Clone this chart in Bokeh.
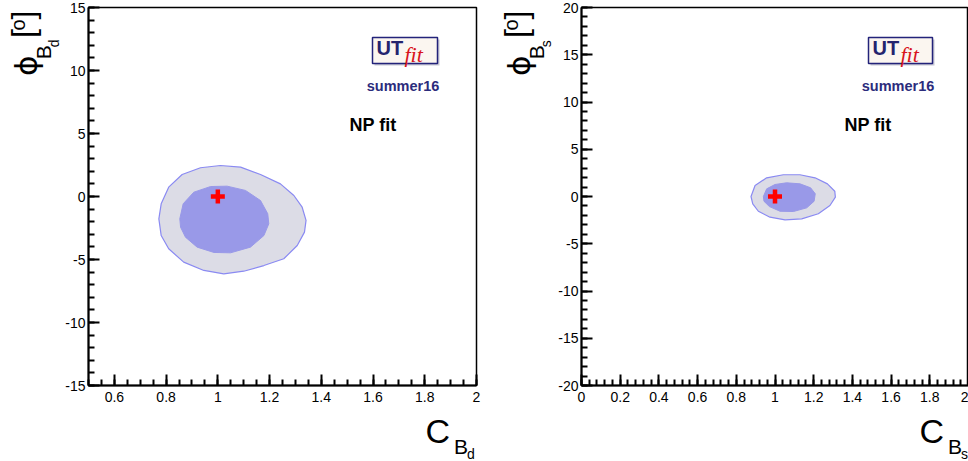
import math
from bokeh.plotting import figure
from bokeh.models import (Label, BoxAnnotation, SingleIntervalTicker,
                          CustomJSTickFormatter, Range1d)
from bokeh.layouts import row, column
from bokeh.embed import file_html
from bokeh.resources import INLINE

# ---------------- data ----------------
# B_d panel: C_Bd vs phi_Bd [deg]
bd_outer_c = [0.772, 0.781, 0.810, 0.862, 0.933, 1.010, 1.088, 1.165, 1.242, 1.294, 1.326,
              1.341, 1.335, 1.307, 1.255, 1.178, 1.100, 1.023, 0.946, 0.868, 0.810, 0.781]
bd_outer_phi = [-1.77, -0.58, 0.74, 1.75, 2.28, 2.46, 2.33, 1.75, 1.00, 0.08, -0.85,
                -1.90, -2.83, -3.89, -4.94, -5.48, -5.93, -6.14, -5.87, -5.21, -4.15, -3.10]
bd_inner_c = [0.853, 0.866, 0.907, 0.972, 1.036, 1.107, 1.165, 1.193, 1.197, 1.178, 1.126,
              1.049, 0.985, 0.920, 0.875, 0.856]
bd_inner_phi = [-1.77, -0.58, 0.34, 0.79, 0.82, 0.48, -0.32, -1.37, -2.17, -3.10, -4.02,
                -4.47, -4.44, -4.02, -3.23, -2.44]

# B_s panel: C_Bs vs phi_Bs [deg]
bs_outer_c = [0.876, 0.897, 0.957, 1.043, 1.129, 1.207, 1.271, 1.309, 1.312, 1.284, 1.224,
              1.138, 1.052, 0.974, 0.914, 0.885]
bs_outer_phi = [0.00, 1.16, 1.98, 2.30, 2.30, 1.98, 1.34, 0.56, -0.07, -0.95, -1.83,
                -2.36, -2.47, -2.19, -1.56, -0.77]
bs_inner_c = [0.940, 0.957, 1.000, 1.060, 1.129, 1.184, 1.208, 1.202, 1.164, 1.095, 1.026,
              0.971, 0.943]
bs_inner_phi = [0.00, 0.81, 1.27, 1.45, 1.34, 0.92, 0.29, -0.50, -1.20, -1.59, -1.56,
                -1.06, -0.50]

# Standard Model point
sm_c = [1.0]
sm_phi = [0.0]

bd_x_range = (0.5, 2.0)
bd_y_range = (-15, 15)
bs_x_range = (0.0, 2.0)
bs_y_range = (-20, 20)

# ---------------- styling ----------------
FONT = "Liberation Sans"
OUTER_FILL = "#dcdce6"
INNER_FILL = "#9999e8"
EDGE = "#8a8af2"
NAVY = "#2c2c7c"
TOP, BOTTOM = 7, 385          # frame top / bottom (px)
H_MAIN = 409                  # height of the plotting canvases
H_ALL = 461
W_ALL = 968

FMT = CustomJSTickFormatter(code="return String(Math.round(tick*1000)/1000);")


def text_canvas(w, h):
    """A blank figure whose data units are its own pixels (y downward)."""
    t = figure(width=w, height=h, x_range=Range1d(0, w), y_range=Range1d(h, 0),
               min_border=0, x_axis_location=None, y_axis_location=None,
               output_backend="svg", toolbar_location=None,
               background_fill_color="white", border_fill_color="white")
    t.outline_line_color = None
    t.grid.visible = False
    return t


def put(p, x, y, text, size, color="black", style="normal", font=FONT,
        angle=0.0, align="left"):
    # (x, y): start (or centre) of the text along its direction, vertical middle
    p.add_layout(Label(x=x, y=y, text=text, text_font=font,
                       text_font_size=f"{size}px", text_color=color,
                       text_font_style=style, angle=angle, angle_units="rad",
                       text_align=align, text_baseline="middle"))


def make_panel(xr, yr, x_int, x_minor, L, R, mb_left, mb_right, logo, sum_dx, np_dx):
    p = figure(frame_width=R - L, frame_height=BOTTOM - TOP,
               min_border_left=mb_left, min_border_right=mb_right,
               min_border_top=TOP, min_border_bottom=H_MAIN - BOTTOM,
               x_range=Range1d(*xr), y_range=Range1d(*yr),
               output_backend="svg", toolbar_location=None,
               background_fill_color="white", border_fill_color="white")
    p.xgrid.visible = False
    p.ygrid.visible = False
    p.outline_line_color = "black"
    p.outline_line_width = 1.5

    p.xaxis.ticker = SingleIntervalTicker(interval=x_int, num_minor_ticks=x_minor)
    p.yaxis.ticker = SingleIntervalTicker(interval=5, num_minor_ticks=5)
    for ax in (p.xaxis[0], p.yaxis[0]):
        ax.formatter = FMT
        ax.axis_line_width = 2
        ax.axis_line_color = "black"
        ax.major_tick_in = 11
        ax.major_tick_out = 0
        ax.minor_tick_in = 6
        ax.minor_tick_out = 0
        ax.major_tick_line_width = 2
        ax.minor_tick_line_width = 2
        ax.major_tick_line_color = "black"
        ax.minor_tick_line_color = "black"
        ax.major_label_text_font = FONT
        ax.major_label_text_font_size = "14px"
        ax.major_label_text_color = "black"
    p.xaxis.major_label_standoff = 6
    p.yaxis.major_label_standoff = 3

    def d(px, py):
        x = xr[0] + (px - L) / (R - L) * (xr[1] - xr[0])
        y = yr[1] - (py - TOP) / (BOTTOM - TOP) * (yr[1] - yr[0])
        return x, y

    def lab(px, py, text, size, **kw):
        x, y = d(px, py)
        put(p, x, y, text, size, **kw)

    # UTfit logo box
    bl, br, bt, bb = logo
    x0, y0 = d(R + bl, bb)
    x1, y1 = d(R + br, bt)
    xs0, ys0 = d(R + bl + 2, bb + 2)
    xs1, ys1 = d(R + br + 2, bt + 2)
    p.add_layout(BoxAnnotation(left=xs0, right=xs1, bottom=ys0, top=ys1,
                               fill_color="#b8b8c8", fill_alpha=0.8, line_alpha=0))
    p.add_layout(BoxAnnotation(left=x0, right=x1, bottom=y0, top=y1,
                               fill_color="#fbf6f0", fill_alpha=1.0,
                               line_color="#23237a", line_width=1.5, line_alpha=1.0))
    lab(R + bl + 4, 47.5, "UT", 20, color="#24246e", style="bold")
    lab(R + bl + 32, 53.5, "fit", 22, color="#d8141c", style="italic",
        font="Liberation Serif")
    lab(R + sum_dx, 85, "summer16", 14.5, color=NAVY, style="bold", align="center")
    lab(R + np_dx, 124.5, "NP fit", 18, style="bold")
    return p


def y_title(w, xs, sub):
    """phi_{B_q} [^o], rotated; xs = middles of phi, B, sub, brackets, o."""
    t = text_canvas(w, H_MAIN)
    a = math.pi / 2
    x_phi, x_b, x_sub, x_br, x_o = xs
    put(t, x_phi, 74, "ϕ", 31, angle=a, font="DejaVu Sans")
    put(t, x_b, 56, "B", 21, angle=a)
    put(t, x_sub, 43, sub, 14, angle=a)
    put(t, x_br, 33, "[", 32, angle=a)
    put(t, x_o, 25, "o", 20, angle=a)
    put(t, x_br, 13, "]", 32, angle=a)
    return t


def x_titles():
    """C_{B_d} and C_{B_s}: one strip under both panels, in page pixels."""
    t = text_canvas(W_ALL, H_ALL - H_MAIN)
    for cx, sub in ((425, "d"), (919, "s")):
        put(t, cx, 430.2 - H_MAIN, "C", 34)
        put(t, cx + 28.4, 445.7 - H_MAIN, "B", 21)
        put(t, cx + 41.4, 453.3 - H_MAIN, sub, 14)
    return t


# left: y-title strip 0..61, panel canvas 61..494 (frame 88..476)
left = make_panel(bd_x_range, bd_y_range, 0.2, 4, L=88, R=476, mb_left=27, mb_right=18,
                  logo=(-104, -39, 37, 63), sum_dx=-73.5, np_dx=-127)
# right: y-title strip 494..554, panel canvas 554..968 (frame 581..968)
right = make_panel(bs_x_range, bs_y_range, 0.2, 5, L=581, R=968, mb_left=27, mb_right=0,
                   logo=(-100, -36, 37, 63), sum_dx=-70.5, np_dx=-124)

for p, oc, op, ic, ip in ((left, bd_outer_c, bd_outer_phi, bd_inner_c, bd_inner_phi),
                          (right, bs_outer_c, bs_outer_phi, bs_inner_c, bs_inner_phi)):
    p.patch(oc, op, fill_color=OUTER_FILL, line_color=EDGE, line_width=1.2)
    p.patch(ic, ip, fill_color=INNER_FILL, line_color=INNER_FILL, line_width=1)
    p.scatter(sm_c, sm_phi, marker="cross", size=14, line_width=4.5, line_color="#ff0000")

layout = column(
    row(
        y_title(61, (25, 42.5, 53, 22.2, 17.2), "d"),
        left,
        y_title(60, (24, 41.5, 51.5, 21.2, 16.2), "s"),
        right,
    ),
    x_titles(),
)
open("out.html", "w").write(file_html(layout, INLINE))
